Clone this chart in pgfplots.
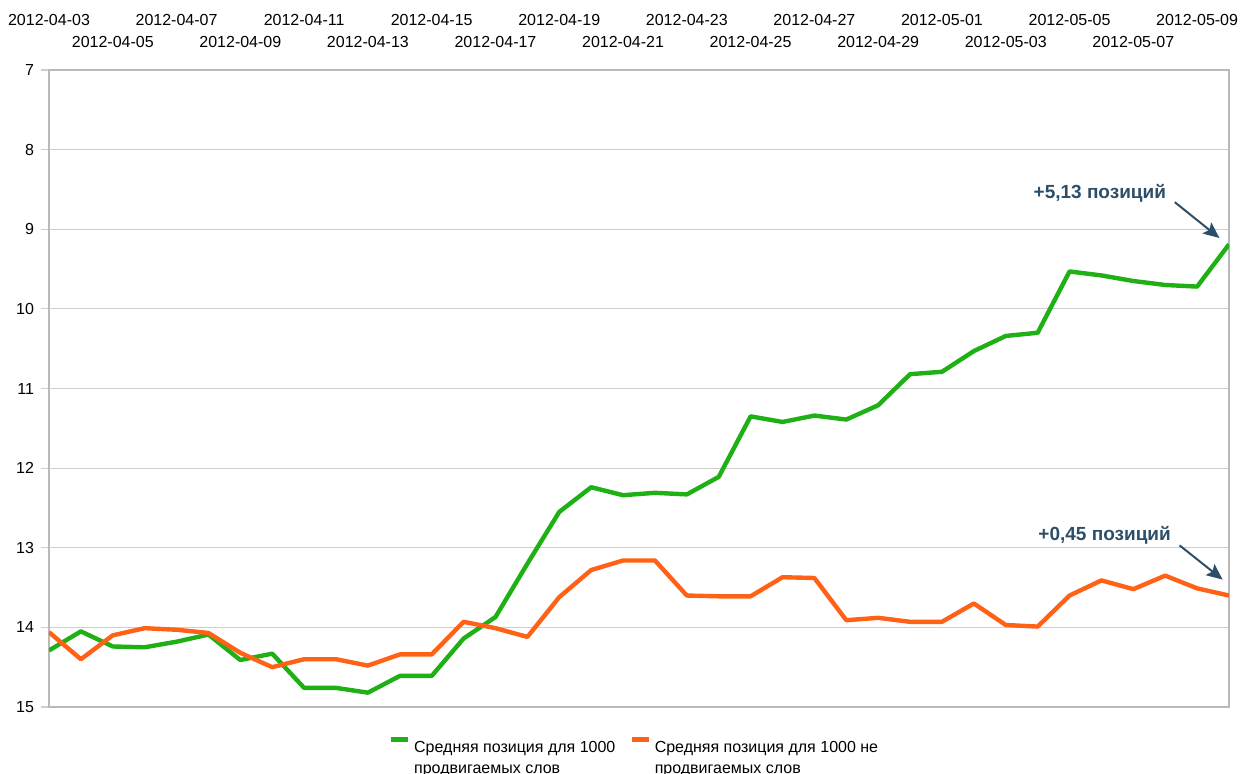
\documentclass[border=0pt]{standalone}
\usepackage{fontspec}
\setmainfont{Liberation Sans}
\usepackage{pgfplots}
\pgfplotsset{compat=1.18}
\usetikzlibrary{arrows.meta}
\definecolor{cgreen}{RGB}{30,176,20}
\definecolor{corange}{RGB}{255,98,22}
\definecolor{cann}{RGB}{45,78,104}
\definecolor{cgrid}{RGB}{206,206,206}
\definecolor{caxis}{RGB}{185,185,185}
\pgfplotstableread{
x y
0 14.29
1 14.05
2 14.24
3 14.25
4 14.18
5 14.09
6 14.41
7 14.33
8 14.76
9 14.76
10 14.82
11 14.61
12 14.61
13 14.14
14 13.87
15 13.20
16 12.55
17 12.24
18 12.34
19 12.31
20 12.33
21 12.11
22 11.35
23 11.42
24 11.34
25 11.39
26 11.21
27 10.82
28 10.79
29 10.53
30 10.34
31 10.30
32 9.53
33 9.58
34 9.65
35 9.70
36 9.72
37 9.19
}\greendata
\pgfplotstableread{
x y
0 14.06
1 14.40
2 14.10
3 14.01
4 14.03
5 14.07
6 14.32
7 14.50
8 14.40
9 14.40
10 14.48
11 14.34
12 14.34
13 13.93
14 14.01
15 14.12
16 13.62
17 13.28
18 13.16
19 13.16
20 13.60
21 13.61
22 13.61
23 13.37
24 13.38
25 13.91
26 13.88
27 13.93
28 13.93
29 13.70
30 13.97
31 13.99
32 13.60
33 13.41
34 13.52
35 13.35
36 13.51
37 13.60
}\orangedata
\begin{document}
\begin{tikzpicture}
\useasboundingbox (0,0) rectangle (621pt,387pt);
\begin{axis}[
  at={(24.5pt,33.5pt)}, anchor=south west,
  scale only axis, width=590pt, height=318.5pt,
  xmin=0, xmax=37, ymin=7, ymax=15, y dir=reverse,
  ytick={7,...,15}, ytick pos=left,
  ymajorgrids, grid style={cgrid, line width=0.6pt},
  axis line style={caxis, line width=0.6pt},
  tick align=outside, major tick length=4pt,
  ytick style={draw=cgrid, line width=0.6pt},
  xtick style={draw=none},
  xticklabel pos=upper,
  xtick={0,4,...,36},
  xticklabels={2012-04-03,2012-04-07,2012-04-11,2012-04-15,2012-04-19,2012-04-23,2012-04-27,2012-05-01,2012-05-05,2012-05-09},
  extra x ticks={2,6,...,34},
  extra x tick labels={2012-04-05,2012-04-09,2012-04-13,2012-04-17,2012-04-21,2012-04-25,2012-04-29,2012-05-03,2012-05-07},
  extra x tick style={xticklabel style={yshift=-11pt}, xtick style={draw=none}},
  xticklabel style={yshift=14.8pt},
  tick label style={font=\fontsize{8}{9.6}\selectfont},
  /pgf/number format/assume math mode=true,
  legend style={at={(0.497,-0.041)}, anchor=north, draw=none, fill=none,
    font=\fontsize{8}{10.5}\selectfont, inner sep=0pt,
    /tikz/every even column/.append style={column sep=5pt}},
  legend columns=2, legend cell align=left,
  legend image code/.code={\draw[#1, line width=2.2pt] (0pt,0.35em) -- (8.5pt,0.35em);},
]
\addplot[cgreen, line width=2.2pt, line join=round] table[x=x,y=y] {\greendata};
\addlegendentry{\begin{tabular}[t]{@{}l@{}}Средняя позиция для 1000\\продвигаемых слов\end{tabular}}
\addplot[corange, line width=2.2pt, line join=round] table[x=x,y=y] {\orangedata};
\addlegendentry{\begin{tabular}[t]{@{}l@{}}Средняя позиция для 1000 не\\продвигаемых слов\end{tabular}}
\node[font=\bfseries\fontsize{9.5}{11}\selectfont, text=cann] at (axis cs:32.95,8.55) {+5,13 позиций};
\draw[cann, line width=1pt, -{Stealth[length=8pt,width=7pt,inset=1.5pt]}] (axis cs:35.3,8.66) -- (axis cs:36.7,9.11);
\node[font=\bfseries\fontsize{9.5}{11}\selectfont, text=cann] at (axis cs:33.1,12.84) {+0,45 позиций};
\draw[cann, line width=1pt, -{Stealth[length=8pt,width=7pt,inset=1.5pt]}] (axis cs:35.45,12.97) -- (axis cs:36.8,13.4);
\end{axis}
\end{tikzpicture}
\end{document}
